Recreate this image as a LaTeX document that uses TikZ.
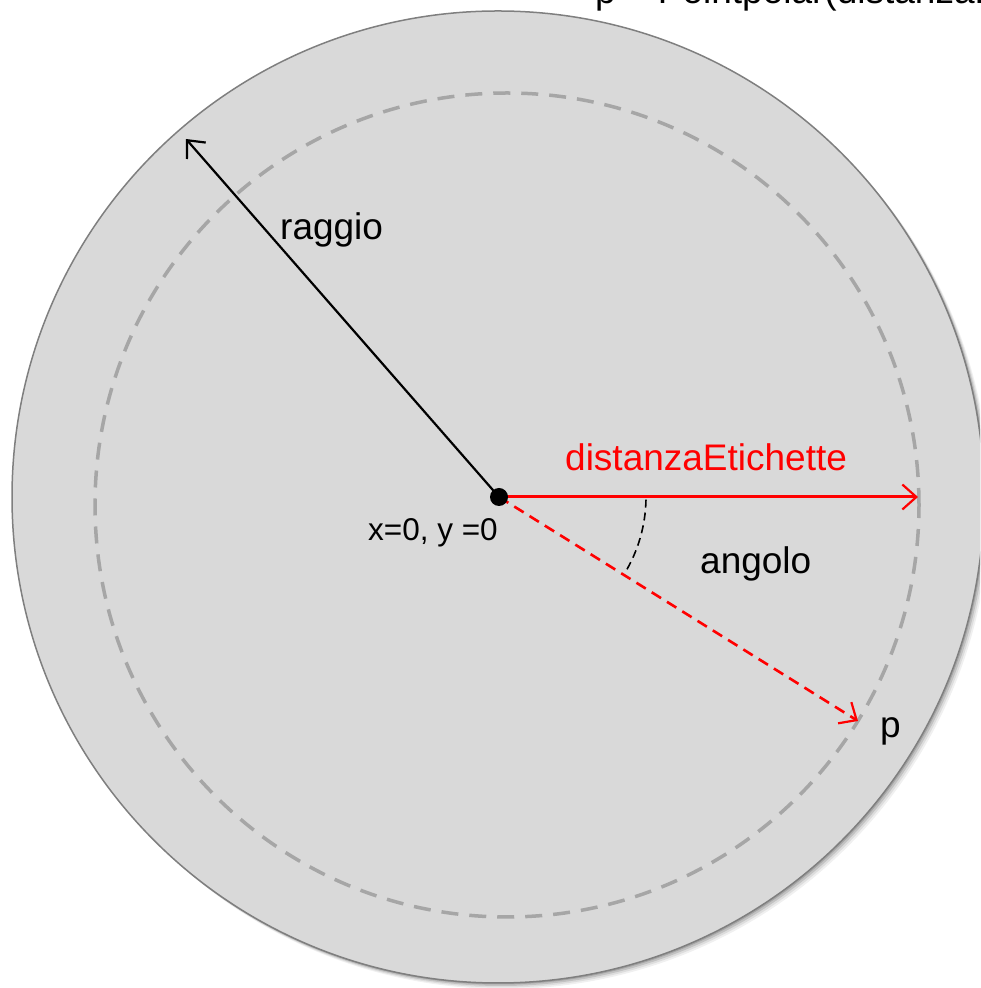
\documentclass[tikz,border=0pt]{standalone}
\usepackage{fontspec}
\setmainfont{Liberation Sans}
\usetikzlibrary{arrows.meta}
\definecolor{discfill}{HTML}{D9D9D9}
\definecolor{discedge}{HTML}{7F7F7F}
\definecolor{dashgray}{HTML}{A6A6A6}
\definecolor{pred}{HTML}{FF0000}
\tikzset{
  lbl/.style={inner sep=0pt, anchor=base west, font=\fontsize{37}{44}\selectfont},
  smalllbl/.style={inner sep=0pt, anchor=base west, font=\fontsize{31.5}{38}\selectfont},
  barb/.style={-{Straight Barb[length=14pt,width=25pt,line width=2.2pt]}},
}
\begin{document}
\begin{tikzpicture}[x=1pt,y=1pt]
\clip (0,0) rectangle (980,988);
% shadow
\foreach \o/\a in {6/0.06,4.5/0.08,3/0.12,1.5/0.15}{
  \fill[black,opacity=\a] (498+\o,491-\o) circle[radius=486];
}
% disc
\draw[draw=discedge, fill=discfill, line width=1.5pt] (498,491) circle[radius=486];
% dashed circle
\draw[dashgray, line width=3.5pt, dash pattern=on 17pt off 11pt] (507,483) circle[radius=412];
% points
\coordinate (O) at (499,491);
\coordinate (R) at (186,849);
\coordinate (D) at (918,491);
\coordinate (P) at (858,267);
% arrows
\draw[barb, line width=2.2pt, black] (O) -- (R);
\draw[barb, line width=3pt, pred] (O) -- (D);
\draw[barb, line width=2.6pt, pred, dash pattern=on 11pt off 7pt] (O) -- (P);
% angle arc
\draw[black, line width=1.6pt, dash pattern=on 8pt off 5pt] (O) ++(-1:147) arc[start angle=-1, end angle=-31, radius=147];
\fill[black] (O) circle[radius=9];
% labels
\node[lbl] (raggio) at (280,748) {raggio};
\node[lbl, text=pred] (dist) at (565,517) {distanzaEtichette};
\node[lbl] (angolo) at (700,414) {angolo};
\node[smalllbl] (orig) at (368,447) {x=0, y =0};
\node[lbl] (plbl) at (880,250) {p};
\node[lbl] (formula) at (595,984) {p = Pointpolar(distanzaEtichette, angolo)};
\end{tikzpicture}
\end{document}
